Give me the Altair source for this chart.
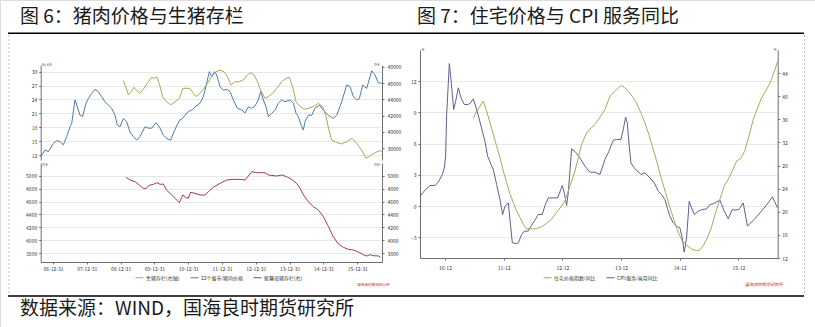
import altair as alt
import pandas as pd

# ---------------- data ----------------
# Left panel, upper: 22-province average pork price (left axis)
pork_year = [2006.635, 2006.763, 2006.862, 2007.010, 2007.108, 2007.207, 2007.306, 2007.404, 2007.503, 2007.552,
             2007.651, 2007.720, 2007.799, 2007.878, 2007.976, 2008.045, 2008.144, 2008.243, 2008.341, 2008.440,
             2008.538, 2008.637, 2008.736, 2008.834, 2008.903, 2008.982, 2009.081, 2009.179, 2009.278, 2009.377,
             2009.475, 2009.574, 2009.722, 2009.821, 2009.919, 2010.047, 2010.146, 2010.264, 2010.363, 2010.481,
             2010.560, 2010.659, 2010.757, 2010.836, 2010.905, 2011.004, 2011.103, 2011.201, 2011.349, 2011.448,
             2011.546, 2011.625, 2011.694, 2011.773, 2011.842, 2011.941, 2012.039, 2012.138, 2012.237, 2012.335,
             2012.454, 2012.582, 2012.680, 2012.779, 2012.878, 2012.976, 2013.075, 2013.144, 2013.223, 2013.302,
             2013.371, 2013.469, 2013.568, 2013.667, 2013.765, 2013.864, 2014.012, 2014.110, 2014.189, 2014.258,
             2014.357, 2014.406, 2014.456, 2014.554, 2014.653, 2014.751, 2014.880, 2014.998, 2015.146, 2015.294,
             2015.393, 2015.540, 2015.688, 2015.787, 2015.886, 2015.984, 2016.063, 2016.162, 2016.280, 2016.379,
             2016.428, 2016.527, 2016.625, 2016.724]
pork_price = [11.6, 13.1, 12.7, 14.5, 15.1, 14.9, 14.2, 16.0, 18.1, 18.8,
              23.9, 22.4, 20.6, 20.3, 23.2, 24.2, 25.3, 26.2, 25.7, 24.6,
              23.5, 22.8, 22.1, 20.6, 18.5, 18.1, 19.9, 19.2, 17.0, 16.0,
              15.2, 16.0, 18.1, 17.8, 17.8, 19.0, 18.1, 16.3, 15.6, 15.2,
              16.7, 18.3, 19.6, 19.9, 20.6, 21.4, 21.7, 22.4, 23.2, 24.6,
              27.5, 30.0, 28.9, 30.0, 29.3, 26.8, 26.0, 26.2, 25.7, 23.9,
              22.1, 21.7, 21.1, 22.4, 22.1, 22.6, 23.9, 25.7, 23.9, 22.4,
              20.3, 21.0, 21.7, 23.2, 23.9, 23.5, 23.9, 23.2, 21.0, 20.3,
              18.1, 17.4, 19.2, 20.6, 20.6, 22.1, 22.8, 21.7, 20.6, 19.9,
              20.6, 23.5, 27.1, 26.8, 24.6, 23.9, 24.2, 27.1, 26.4, 28.9,
              30.2, 29.3, 27.6, 27.5]

# Left panel, upper: hog inventory (right axis)
hog_year = [2009.08, 2009.16, 2009.23, 2009.31, 2009.40, 2009.48, 2009.57, 2009.67, 2009.79, 2009.92,
            2009.99, 2010.07, 2010.17, 2010.24, 2010.36, 2010.48, 2010.61, 2010.74, 2010.84, 2010.95,
            2011.05, 2011.15, 2011.23, 2011.35, 2011.45, 2011.57, 2011.69, 2011.82, 2011.94, 2012.06,
            2012.16, 2012.26, 2012.38, 2012.51, 2012.63, 2012.75, 2012.85, 2012.95, 2013.05, 2013.14,
            2013.27, 2013.37, 2013.50, 2013.62, 2013.77, 2013.89, 2013.99, 2014.09, 2014.19, 2014.31,
            2014.43, 2014.55, 2014.70, 2014.85, 2014.98, 2015.08, 2015.15, 2015.24, 2015.39, 2015.54,
            2015.69, 2015.84, 2015.98, 2016.13, 2016.26, 2016.38, 2016.53, 2016.67, 2016.75]
hog_stock = [46286, 45470, 44530, 44940, 45470, 45060, 44740, 45230, 45960, 46690,
             46570, 46780, 45550, 44330, 43710, 43310, 43710, 44120, 45350, 45350,
             45350, 44740, 44330, 44740, 45230, 45960, 46780, 47390, 47590, 47390,
             46780, 45760, 46160, 46160, 46370, 46980, 47270, 46980, 46160, 45140,
             44120, 44330, 44740, 45350, 46160, 46570, 46690, 45550, 43710, 43100,
             42780, 42900, 43100, 43510, 43100, 41880, 40450, 39020, 38700, 38530,
             38820, 39230, 38620, 37800, 36780, 37060, 37470, 37710, 37590]

# Left panel, lower: breeding sow inventory
sow_year = [2009.16, 2009.28, 2009.43, 2009.55, 2009.67, 2009.75, 2009.87, 2009.97, 2010.07, 2010.17,
            2010.26, 2010.36, 2010.51, 2010.64, 2010.74, 2010.84, 2010.93, 2011.00, 2011.07, 2011.20,
            2011.35, 2011.50, 2011.60, 2011.74, 2011.94, 2012.14, 2012.34, 2012.53, 2012.68, 2012.78,
            2012.88, 2013.03, 2013.27, 2013.37, 2013.62, 2013.77, 2013.91, 2014.06, 2014.21, 2014.31,
            2014.41, 2014.55, 2014.70, 2014.85, 2015.00, 2015.15, 2015.29, 2015.44, 2015.59, 2015.74,
            2015.89, 2016.03, 2016.18, 2016.28, 2016.38, 2016.48, 2016.63, 2016.69]
sow_stock = [4974, 4933, 4907, 4856, 4804, 4804, 4856, 4866, 4892, 4866,
             4871, 4778, 4701, 4634, 4582, 4701, 4665, 4649, 4742, 4727,
             4701, 4701, 4753, 4820, 4881, 4933, 4943, 4943, 4933, 4995,
             5062, 5046, 5046, 5010, 4995, 5010, 4985, 4943, 4881, 4804,
             4701, 4598, 4521, 4469, 4366, 4211, 4057, 3943, 3892, 3861,
             3850, 3820, 3778, 3758, 3778, 3763, 3758, 3737]

# Right panel: purple series (left axis)
cpi_year = [2010.574, 2010.659, 2010.744, 2010.830, 2010.886, 2010.955, 2010.989, 2011.011, 2011.028, 2011.045,
            2011.074, 2011.102, 2011.148, 2011.182, 2011.227, 2011.273, 2011.329, 2011.398, 2011.443, 2011.483,
            2011.522, 2011.579, 2011.636, 2011.681, 2011.727, 2011.784, 2011.823, 2011.880, 2011.937, 2011.982,
            2012.022, 2012.079, 2012.147, 2012.221, 2012.249, 2012.306, 2012.352, 2012.420, 2012.465, 2012.533,
            2012.590, 2012.658, 2012.704, 2012.760, 2012.846, 2012.919, 2012.999, 2013.033, 2013.073, 2013.101,
            2013.158, 2013.226, 2013.300, 2013.385, 2013.470, 2013.555, 2013.641, 2013.726, 2013.794, 2013.868,
            2013.924, 2013.998, 2014.038, 2014.078, 2014.106, 2014.140, 2014.169, 2014.225, 2014.294, 2014.350,
            2014.407, 2014.492, 2014.566, 2014.634, 2014.691, 2014.748, 2014.793, 2014.833, 2014.890, 2014.947,
            2015.003, 2015.043, 2015.077, 2015.117, 2015.162, 2015.202, 2015.248, 2015.316, 2015.384, 2015.458,
            2015.515, 2015.571, 2015.685, 2015.759, 2015.827, 2015.895, 2015.940, 2016.009, 2016.082, 2016.155,
            2016.280, 2016.394, 2016.507, 2016.581, 2016.666]
cpi_value = [0.94, 1.52, 1.97, 1.97, 2.29, 3.03, 3.67, 4.79, 8.79, 10.56,
             13.70, 12.16, 9.28, 10.08, 11.36, 10.40, 9.76, 9.76, 9.98, 10.30,
             9.60, 8.47, 7.19, 6.23, 4.79, 3.99, 3.51, 2.06, 0.62, -0.82,
             -0.02, 0.30, -3.54, -3.61, -3.54, -2.74, -2.42, -2.42, -1.94, -1.36,
             -0.82, -0.82, 0.05, 0.78, 0.78, 0.78, 1.97, 1.26, 0.05, 1.26,
             5.49, 5.17, 4.63, 3.83, 3.25, 3.25, 3.03, 4.47, 5.27, 6.33,
             6.40, 6.40, 7.35, 8.54, 8.00, 5.75, 4.15, 3.67, 3.25, 3.03,
             3.19, 2.71, 2.22, 1.42, 1.10, 0.62, -0.28, -0.98, -1.62, -1.94,
             -2.10, -3.06, -4.44, -3.06, 0.46, -0.18, -0.82, -0.50, -0.34, -0.28,
             0.14, 0.21, 0.56, -0.50, -1.23, -0.34, -0.40, -0.34, 0.30, -1.94,
             -1.23, -0.50, 0.30, 0.88, -0.18]

# Right panel: olive series (right axis)
house_year = [2011.483, 2011.539, 2011.596, 2011.653, 2011.710, 2011.767, 2011.823, 2011.880, 2011.937, 2011.994,
              2012.051, 2012.107, 2012.164, 2012.221, 2012.278, 2012.334, 2012.391, 2012.448, 2012.505, 2012.562,
              2012.647, 2012.732, 2012.817, 2012.902, 2012.988, 2013.044, 2013.101, 2013.158, 2013.215, 2013.271,
              2013.328, 2013.413, 2013.499, 2013.555, 2013.641, 2013.726, 2013.811, 2013.896, 2013.964, 2014.010,
              2014.066, 2014.123, 2014.191, 2014.265, 2014.339, 2014.407, 2014.475, 2014.549, 2014.623, 2014.691,
              2014.759, 2014.833, 2014.907, 2014.975, 2015.043, 2015.117, 2015.202, 2015.288, 2015.344, 2015.401,
              2015.475, 2015.543, 2015.611, 2015.685, 2015.759, 2015.827, 2015.895, 2015.969, 2016.043, 2016.111,
              2016.180, 2016.254, 2016.328, 2016.396, 2016.464, 2016.538, 2016.612, 2016.668]
house_value = [36.14, 37.40, 38.26, 39.13, 37.40, 35.39, 33.38, 31.37, 29.36, 27.06,
               25.05, 23.15, 21.60, 20.16, 19.01, 17.86, 17.00, 17.17, 17.00, 17.11,
               17.40, 17.98, 18.72, 19.87, 21.02, 21.89, 23.61, 25.33, 27.06, 29.36,
               31.66, 33.67, 34.64, 35.10, 36.37, 37.69, 39.99, 40.85, 41.54, 41.89,
               41.43, 40.85, 39.99, 38.84, 37.11, 35.39, 33.38, 30.79, 28.21, 25.62,
               23.32, 20.74, 18.44, 16.43, 14.99, 14.24, 13.55, 13.26, 13.38, 14.13,
               15.56, 17.40, 19.87, 22.17, 24.47, 25.62, 27.06, 28.78, 29.24, 30.62,
               33.09, 35.97, 37.98, 39.70, 40.85, 42.29, 44.30, 46.02]

left_series = ["生猪存栏(右轴)", "22个省市:猪肉价格", "能繁母猪存栏(右)"]
right_series = ["住宅价格指数:同比", "CPI:服务:当月同比"]

pork_ticks = [12, 15, 18, 21, 24, 27, 30]
hog_ticks = [38000, 40000, 42000, 44000, 46000, 48000]
sow_ticks = [3800, 4000, 4200, 4400, 4600, 4800, 5000]
left_x_ticks = [2007, 2008, 2009, 2010, 2011, 2012, 2013, 2014, 2015, 2016]
left_x_labels = ["06-12-31", "07-12-31", "08-12-31", "09-12-31", "10-12-31",
                 "11-12-31", "12-12-31", "13-12-31", "14-12-31", "15-12-31"]
right_x_ticks = [2011, 2012, 2013, 2014, 2015, 2016]
right_x_labels = ["10-12", "11-12", "12-12", "13-12", "14-12", "15-12"]
cpi_ticks = [-3, 0, 3, 6, 9, 12]
house_ticks = [12, 16, 20, 24, 28, 32, 36, 40, 44]

title_left = "图 6：猪肉价格与生猪存栏"
title_right = "图 7：住宅价格与 CPI 服务同比"
source_text = "数据来源：WIND，国海良时期货研究所"
mark_text_red = "国海良时期货研究所"

# ---------------- styling ----------------
FONT = "Noto Sans CJK SC"
OLIVE = "#a5aa5a"
BLUE = "#4d7ca8"
RED = "#9e3f49"
PURPLE = "#6a5b8c"
GRID = "#e2e2e2"
AXC = "#6e6e6e"

AX = dict(title=None, labelFont=FONT, labelFontSize=5, labelColor="#333333",
          domainColor=AXC, domainWidth=1, tickColor=AXC, tickSize=2,
          labelPadding=2, labelFlush=False, labelOverlap=False)


def frame(xs, ys, name):
    return pd.DataFrame({"t": xs, "v": ys, "s": [name] * len(xs)})


def label_expr(ticks, labels):
    expr = "''"
    for t, l in zip(reversed(ticks), reversed(labels)):
        expr = f"datum.value === {t} ? '{l}' : {expr}"
    return expr


def legend(x, y):
    return alt.Legend(orient="none", legendX=x, legendY=y, direction="horizontal", title=None,
                      symbolType="stroke", symbolSize=64, symbolStrokeWidth=1,
                      labelFont=FONT, labelFontSize=5, labelColor="#333333",
                      columnPadding=8, labelOffset=2, padding=0)


xL = alt.Scale(domain=[2006.636, 2016.733], range=[40.7, 382], nice=False, zero=False)
xR = alt.Scale(domain=[2010.574, 2016.67], range=[420, 777.7], nice=False, zero=False)

# ---------------- left panel ----------------
pork = alt.Chart(frame(pork_year, pork_price, left_series[1])).mark_line(strokeWidth=1).encode(
    x=alt.X("t:Q", scale=xL, axis=None),
    y=alt.Y("v:Q", scale=alt.Scale(domain=[10.92, 31.45], range=[160, 65], nice=False, zero=False),
            axis=alt.Axis(orient="left", offset=-40.7, values=pork_ticks, grid=True,
                          gridColor=GRID, gridWidth=0.8, **AX)),
    color=alt.Color("s:N", scale=alt.Scale(domain=left_series, range=[OLIVE, BLUE, RED]),
                    legend=legend(135, 273)),
)

hog = alt.Chart(frame(hog_year, hog_stock, left_series[0])).mark_line(strokeWidth=1, color=OLIVE).encode(
    x=alt.X("t:Q", scale=xL, axis=None),
    y=alt.Y("v:Q", scale=alt.Scale(domain=[36566, 48208], range=[160, 65], nice=False, zero=False),
            axis=alt.Axis(orient="right", offset=-433, values=hog_ticks, grid=False, format="d",
                          **dict(AX, labelPadding=3))),
)

sow = alt.Chart(frame(sow_year, sow_stock, left_series[2])).mark_line(strokeWidth=1, color=RED).encode(
    x=alt.X("t:Q", scale=xL,
            axis=alt.Axis(orient="bottom", offset=-65, values=left_x_ticks,
                          labelExpr=label_expr(left_x_ticks, left_x_labels), grid=False, **AX)),
    y=alt.Y("v:Q", scale=alt.Scale(domain=[3665, 5196], range=[262, 163], nice=False, zero=False),
            axis=alt.Axis(orient="left", offset=-40.7, values=sow_ticks, grid=True,
                          gridColor=GRID, gridWidth=0.8, format="d", **AX)),
)

sow_right = alt.Chart(frame(sow_year, sow_stock, left_series[2])).mark_line(strokeWidth=1, color=RED, opacity=0).encode(
    x=alt.X("t:Q", scale=xL, axis=None),
    y=alt.Y("v:Q", scale=alt.Scale(domain=[3665, 5196], range=[262, 163], nice=False, zero=False),
            axis=alt.Axis(orient="right", offset=-433, values=sow_ticks, grid=False, format="d",
                          **dict(AX, labelPadding=3))),
)

# ---------------- right panel ----------------
cpi = alt.Chart(frame(cpi_year, cpi_value, right_series[1])).mark_line(strokeWidth=1).encode(
    x=alt.X("t:Q", scale=xR,
            axis=alt.Axis(orient="bottom", offset=-69, values=right_x_ticks,
                          labelExpr=label_expr(right_x_ticks, right_x_labels), grid=False,
                          **dict(AX, labelPadding=5))),
    y=alt.Y("v:Q", scale=alt.Scale(domain=[-5, 15], range=[258, 50], nice=False, zero=False),
            axis=alt.Axis(orient="left", offset=-420, values=cpi_ticks, grid=True,
                          gridColor=GRID, gridWidth=0.8, **AX)),
    color=alt.Color("s:N", scale=alt.Scale(domain=right_series, range=[OLIVE, PURPLE]),
                    legend=legend(543, 273)),
)

house = alt.Chart(frame(house_year, house_value, right_series[0])).mark_line(strokeWidth=1, color=OLIVE).encode(
    x=alt.X("t:Q", scale=xR, axis=None),
    y=alt.Y("v:Q", scale=alt.Scale(domain=[12, 48], range=[258, 50], nice=False, zero=False),
            axis=alt.Axis(orient="right", offset=-37.3, values=house_ticks, grid=False, **AX)),
)

# ---------------- page decorations ----------------
one = pd.DataFrame({"k": [0]})


def text(s, x, y, size, color="#1a1a1a", align="left", **kw):
    return alt.Chart(one).mark_text(text=s, align=align, baseline="middle", font=FONT,
                                    fontSize=size, color=color, **kw).encode(
        x=alt.value(x), y=alt.value(y))


def hrule(x1, x2, y, color, width, **kw):
    return alt.Chart(one).mark_rule(color=color, strokeWidth=width, **kw).encode(
        x=alt.value(x1), x2=alt.value(x2), y=alt.value(y))


def vrule(x, y1, y2, color, width, **kw):
    return alt.Chart(one).mark_rule(color=color, strokeWidth=width, **kw).encode(
        x=alt.value(x), y=alt.value(y1), y2=alt.value(y2))


decor = [
    text(title_left, 20, 16.5, 19),
    text(title_right, 417, 16.5, 19),
    text(source_text, 20, 309, 19),
    hrule(8, 804, 33.3, "#000000", 1.5),
    hrule(8, 804, 296, "#000000", 1.5),
    vrule(9, 35, 295, "#bdbdbd", 1, strokeDash=[2, 2]),
    vrule(804.5, 35, 295, "#bdbdbd", 1, strokeDash=[2, 2]),
    text(mark_text_red, 357, 285, 3.6, color="#e0201b", fontStyle="italic"),
    text(mark_text_red, 745, 285, 4.2, color="#e0201b", fontStyle="italic"),
    text("元/公斤", 42, 64.5, 3, color="#333333"),
    text("万头", 380, 64.5, 3, color="#333333", align="right"),
    text("万头", 42, 164.5, 3, color="#333333"),
    text("万头", 380, 164.5, 3, color="#333333", align="right"),
    text("%", 421.5, 50, 3, color="#333333"),
    text("%", 776.5, 50, 3, color="#333333", align="right"),
]

chart = alt.layer(pork, hog, sow, sow_right, cpi, house, *decor).resolve_scale(
    x="independent", y="independent", color="independent"
).properties(
    width=815, height=327, autosize=alt.AutoSizeParams(type="none"), padding=0, background="white"
).configure_view(stroke=None).configure(font=FONT)

chart.save("out.html", embed_options={"renderer": "svg", "actions": False})
